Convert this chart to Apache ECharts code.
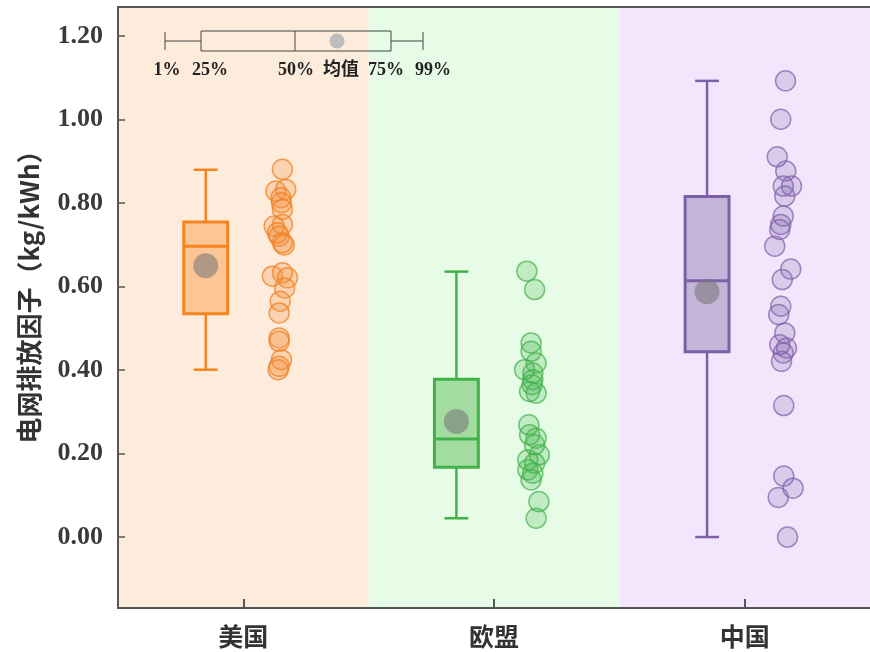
<!DOCTYPE html>
<html>
<head>
<meta charset="utf-8">
<script src="https://cdn.jsdelivr.net/npm/echarts@6/dist/echarts.min.js"></script>
<style>html,body{margin:0;padding:0;background:#fff}#c{width:870px;height:652px}</style>
</head>
<body>
<div id="c"></div>
<script>
const categories = ['美国', '欧盟', '中国'];
const yTicks = [0, 0.2, 0.4, 0.6, 0.8, 1.0, 1.2];
// box statistics (1%, 25%, 50%, 75%, 99%, mean)
const p1 = [0.401, 0.045, 0.000];
const q1 = [0.535, 0.167, 0.444];
const median = [0.697, 0.235, 0.614];
const q3 = [0.755, 0.378, 0.816];
const p99 = [0.880, 0.636, 1.093];
const means = [0.650, 0.277, 0.588];
// raw points
const usPoints = [0.881,0.829,0.833,0.813,0.801,0.785,0.745,0.749,0.729,0.721,0.705,0.700,0.625,0.633,0.621,0.597,0.565,0.537,0.477,0.469,0.425,0.409,0.401];
const usJitter = [0.006,-0.020,0.019,0.000,0.002,0.006,-0.027,0.006,-0.014,-0.007,0.006,0.013,-0.034,0.006,0.026,0.015,-0.003,-0.007,-0.007,-0.007,0.002,-0.007,-0.011];
const euPoints = [0.637,0.593,0.465,0.445,0.417,0.401,0.393,0.377,0.365,0.349,0.345,0.269,0.245,0.237,0.221,0.197,0.185,0.177,0.161,0.153,0.137,0.085,0.045];
const euJitter = [-0.019,0.012,-0.002,-0.002,0.018,-0.028,0.005,0.005,0.002,-0.008,0.018,-0.011,-0.008,0.018,0.012,0.031,-0.015,0.012,-0.015,0.005,-0.002,0.029,0.018];
const cnPoints = [1.093,1.001,0.911,0.877,0.841,0.841,0.817,0.769,0.749,0.737,0.697,0.642,0.617,0.553,0.533,0.489,0.461,0.453,0.441,0.421,0.315,0.146,0.117,0.095,0.000];
const cnJitter = [0.013,-0.006,-0.020,0.014,0.004,0.037,0.010,0.004,-0.006,-0.010,-0.030,0.034,0.000,-0.006,-0.014,0.010,-0.010,0.017,0.004,-0.003,0.006,0.006,0.043,-0.016,0.021];
const legendLabels = ['1%', '25%', '50%', '均值', '75%', '99%'];

const BOX_OFF = 0.35, PT_OFF = 0.65, BOX_W = 0.175, CAP_W = 0.095;
const stroke = ['#f5841f', '#42b14a', '#7d5ea9'];
const fill = ['#fcc596', '#a3dca0', '#c5b4d9'];
const bg = ['#fdebdc', '#e6fce6', '#f3e6fc'];
const ptFill = ['rgba(245,140,50,0.25)', 'rgba(66,177,74,0.22)', 'rgba(125,94,169,0.2)'];
const ptBorder = ['rgba(240,130,35,0.75)', 'rgba(66,177,74,0.7)', 'rgba(125,94,169,0.7)'];

const serif = '"Liberation Serif","Noto Sans CJK SC",serif';
const allPoints = [usPoints, euPoints, cnPoints];
const allJitter = [usJitter, euJitter, cnJitter];

const boxData = categories.map((c, i) => [i + BOX_OFF, p1[i], q1[i], median[i], q3[i], p99[i]]);

const series = [];
series.push({
  type: 'line', xAxisIndex: 1, data: [], z: 1, silent: true,
  markArea: {
    silent: true,
    data: categories.map((c, i) => [{ xAxis: i, itemStyle: { color: bg[i] } }, { xAxis: i + 1 }])
  }
});
series.push({
  type: 'custom', xAxisIndex: 1, z: 3,
  data: boxData,
  renderItem: function (params, api) {
    const i = params.dataIndex;
    const x = api.value(0);
    const lo = api.coord([x, api.value(1)]);
    const a = api.coord([x, api.value(2)]);
    const m = api.coord([x, api.value(3)]);
    const b = api.coord([x, api.value(4)]);
    const hi = api.coord([x, api.value(5)]);
    const hw = api.size([BOX_W, 0])[0] / 2;
    const cw = api.size([CAP_W, 0])[0] / 2;
    const ls = { stroke: stroke[i], lineWidth: 2.5 };
    return {
      type: 'group',
      children: [
        { type: 'line', shape: { x1: lo[0], y1: lo[1], x2: a[0], y2: a[1] }, style: ls },
        { type: 'line', shape: { x1: b[0], y1: b[1], x2: hi[0], y2: hi[1] }, style: ls },
        { type: 'line', shape: { x1: lo[0] - cw, y1: lo[1], x2: lo[0] + cw, y2: lo[1] }, style: ls },
        { type: 'line', shape: { x1: hi[0] - cw, y1: hi[1], x2: hi[0] + cw, y2: hi[1] }, style: ls },
        { type: 'rect', shape: { x: a[0] - hw, y: b[1], width: hw * 2, height: a[1] - b[1] },
          style: { fill: fill[i], stroke: stroke[i], lineWidth: 3 } },
        { type: 'line', shape: { x1: m[0] - hw, y1: m[1], x2: m[0] + hw, y2: m[1] }, style: { stroke: stroke[i], lineWidth: 3 } }
      ]
    };
  }
});
allPoints.forEach((pts, i) => {
  series.push({
    type: 'scatter', xAxisIndex: 1, z: 4,
    symbolSize: 20,
    itemStyle: { color: ptFill[i], borderColor: ptBorder[i], borderWidth: 1.5, opacity: 1 },
    data: pts.map((v, k) => [i + PT_OFF + allJitter[i][k], v])
  });
});
series.push({
  type: 'scatter', xAxisIndex: 1, z: 5,
  symbolSize: 25,
  itemStyle: { color: 'rgba(120,120,120,0.72)' },
  data: means.map((v, i) => [i + BOX_OFF, v])
});

// legend graphic (box-plot key)
const ly = 41, lTop = 31, lBot = 51;
const legendX = [165, 201, 295, 337, 391, 423];
const labelX = [167, 210, 296, 341, 386, 433];
const gz = 100;
const gEls = [
  { type: 'line', z: gz, shape: { x1: legendX[0], y1: ly, x2: legendX[1], y2: ly }, style: { stroke: '#444', lineWidth: 1 } },
  { type: 'line', z: gz, shape: { x1: legendX[0], y1: 32, x2: legendX[0], y2: 50 }, style: { stroke: '#444', lineWidth: 1 } },
  { type: 'rect', z: gz, shape: { x: legendX[1], y: lTop, width: legendX[4] - legendX[1], height: lBot - lTop }, style: { fill: 'none', stroke: '#444', lineWidth: 1 } },
  { type: 'line', z: gz, shape: { x1: legendX[2], y1: lTop, x2: legendX[2], y2: lBot }, style: { stroke: '#444', lineWidth: 1 } },
  { type: 'circle', z: gz, shape: { cx: legendX[3], cy: ly, r: 7.5 }, style: { fill: '#bdbdbd' } },
  { type: 'line', z: gz, shape: { x1: legendX[4], y1: ly, x2: legendX[5], y2: ly }, style: { stroke: '#444', lineWidth: 1 } },
  { type: 'line', z: gz, shape: { x1: legendX[5], y1: 32, x2: legendX[5], y2: 50 }, style: { stroke: '#444', lineWidth: 1 } }
];
legendLabels.forEach((t, i) => {
  gEls.push({ type: 'text', z: gz, x: labelX[i], y: 70, style: { text: t, fill: '#222', font: 'bold 18px ' + serif, align: 'center', verticalAlign: 'middle' } });
});

const chart = echarts.init(document.getElementById('c'), null, { renderer: 'canvas' });
chart.setOption({
  animation: false,
  backgroundColor: '#fff',
  grid: { left: 118, right: -4, top: 7, bottom: 44 },
  xAxis: [
    {
      type: 'category', data: categories, position: 'bottom', boundaryGap: true, z: 10,
      axisLine: { onZero: false, lineStyle: { color: '#555', width: 2 } },
      axisTick: { show: true, inside: true, alignWithLabel: true, length: 9, lineStyle: { color: '#555', width: 2 } },
      axisLabel: { margin: 16, color: '#333', fontSize: 25, fontWeight: 'bold', fontFamily: '"Noto Sans CJK SC",sans-serif' },
      splitLine: { show: false }
    },
    {
      type: 'value', min: 0, max: 3, position: 'top', z: 10,
      axisLine: { show: true, onZero: false, lineStyle: { color: '#555', width: 2 } },
      axisTick: { show: false }, axisLabel: { show: false }, splitLine: { show: false }
    }
  ],
  yAxis: {
    type: 'value', min: -0.17, max: 1.27, z: 10,
    name: '电网排放因子（kg/kWh）', nameLocation: 'middle', nameGap: 76,
    nameTextStyle: { fontSize: 26, fontWeight: 'bold', color: '#333', fontFamily: '"Noto Sans CJK SC",sans-serif', padding: [0, 0, 0, 34] },
    axisLine: { show: true, onZero: false, lineStyle: { color: '#555', width: 2 } },
    axisTick: { show: true, inside: true, length: 7, customValues: yTicks, lineStyle: { color: '#555', width: 1.5 } },
    axisLabel: { margin: 15, customValues: yTicks, color: '#3a3a3a', fontSize: 26, fontWeight: 'bold', fontFamily: serif,
      formatter: v => Number(v).toFixed(2) },
    splitLine: { show: false }
  },
  graphic: { elements: gEls },
  series: series
});
</script>
</body>
</html>
